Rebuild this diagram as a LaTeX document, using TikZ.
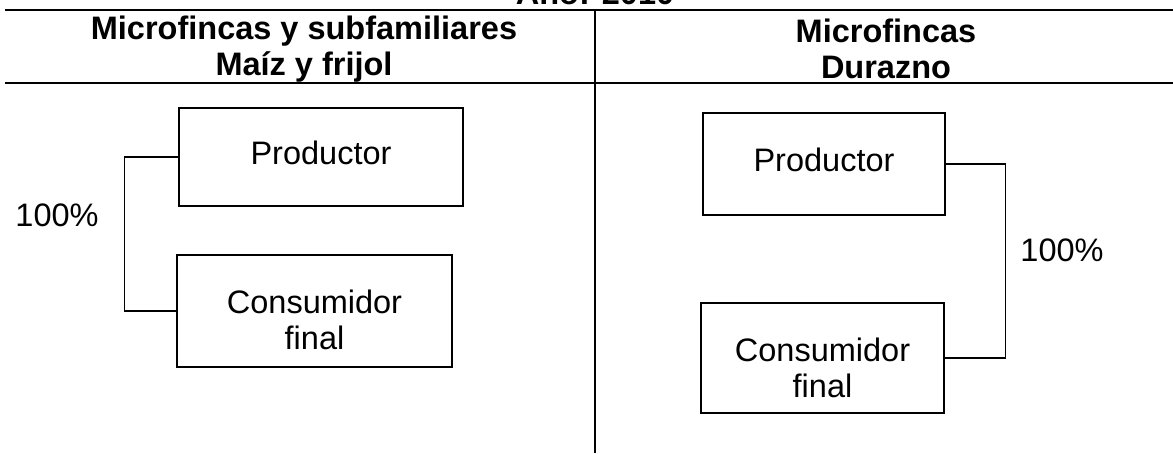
\documentclass[tikz,border=0pt]{standalone}
\usepackage{fontspec}
\setmainfont{Liberation Sans}
\usetikzlibrary{positioning}

\tikzset{
  caja/.style={draw, rectangle, line width=1.1pt, inner sep=0pt},
  encab/.style={font=\fontsize{32.5}{36}\selectfont\bfseries, align=center},
  txt/.style={font=\fontsize{32.5}{36}\selectfont, align=center}
}

\begin{document}
\begin{tikzpicture}[x=1pt, y=-1pt]
  \useasboundingbox (0,0) rectangle (1173,453);
  \clip (0,0) rectangle (1173,453);

  % table lines
  \draw[line width=1.4pt] (5,10) -- (1173,10);
  \draw[line width=1.4pt] (5,83) -- (1173,83);
  \draw[line width=1.1pt] (595,10) -- (595,453);

  \node[encab, anchor=base] (anio) at (595,4) {Año: 2010};
  \node[encab] (hizq) at (304,49) {Microfincas y subfamiliares\\Maíz y frijol};
  \node[encab] (hder) at (886,49) {Microfincas\\Durazno};

  % left column
  \node[caja, minimum width=284, minimum height=98] (PL) at (321,157) {};
  \node[txt] (PLt) at ([yshift=4pt]PL.center) {Productor};
  \node[caja, minimum width=275, minimum height=112] (CL) at (314.5,311) {};
  \node[txt] (CLt) at ([yshift=-9pt]CL.center) {Consumidor\\final};
  \node[txt] (pctL) at (57,215) {100\%};
  \draw[line width=1.1pt] (PL.west) -- ++(-54,0) |- (CL.west);

  % right column
  \node[caja, minimum width=242, minimum height=102] (PR) at (824,164) {};
  \node[txt] (PRt) at ([yshift=4pt]PR.center) {Productor};
  \node[caja, minimum width=243, minimum height=110] (CR) at (822.5,358) {};
  \node[txt] (CRt) at ([yshift=-10pt]CR.center) {Consumidor\\final};
  \node[txt] (pctR) at (1062,250) {100\%};
  \draw[line width=1.1pt] (PR.east) -- ++(60,0) |- (CR.east);
\end{tikzpicture}
\end{document}
